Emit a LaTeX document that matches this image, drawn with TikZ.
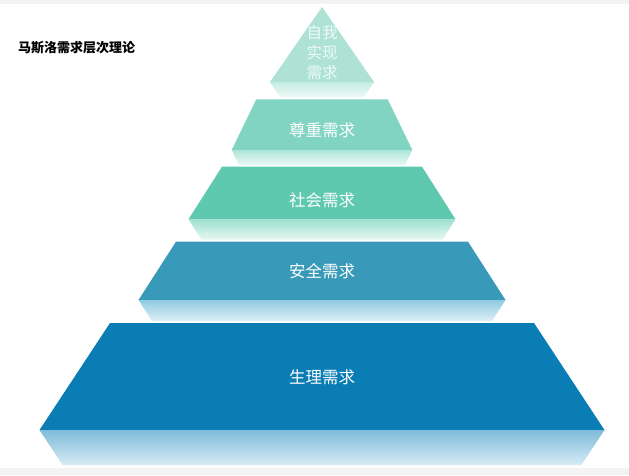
\documentclass[tikz,border=0pt]{standalone}
\usepackage{fontspec}
\newfontfamily\cjk{Noto Sans CJK SC}
\definecolor{bandgray}{HTML}{F3F3F3}
\definecolor{c1}{HTML}{AEE2D5}
\definecolor{c2}{HTML}{80D4C1}
\definecolor{c3}{HTML}{5EC9AE}
\definecolor{c4}{HTML}{3899B8}
\definecolor{c5}{HTML}{0A7DB5}
\definecolor{r1t}{HTML}{C3ECE2}\definecolor{r1b}{HTML}{EFFAF7}
\definecolor{r2t}{HTML}{ADE6D8}\definecolor{r2b}{HTML}{EAF8F4}
\definecolor{r3t}{HTML}{9EE0CF}\definecolor{r3b}{HTML}{E6F7F2}
\definecolor{r4t}{HTML}{90CBE0}\definecolor{r4b}{HTML}{DDF0F6}
\definecolor{r5t}{HTML}{7EBCD9}\definecolor{r5b}{HTML}{D6EBF5}
\definecolor{lighttext}{HTML}{EEFAF6}
\begin{document}
\begin{tikzpicture}[x=1pt,y=-1pt,
  lbl/.style={font=\cjk\fontsize{16.5}{20}\selectfont, text=white, inner sep=0pt, align=center},
  toplbl/.style={font=\cjk\fontsize{15.5}{20}\selectfont, text=lighttext, inner sep=0pt, align=center},
  ttl/.style={font=\cjk\bfseries\fontsize{13}{15}\selectfont, text=black, inner sep=0pt, anchor=west}]
\useasboundingbox (0,0) rectangle (629,475);
\fill[white] (0,0) rectangle (629,475);
\fill[bandgray] (0,0) rectangle (629,4);
\fill[bandgray] (0,468) rectangle (629,475);
% level 1
\fill[c1] (322,7) -- (374,82) -- (270,82) -- cycle;
\shade[top color=r1t,bottom color=r1b] (270,82) -- (374,82) -- (364,97) -- (280,97) -- cycle;
% level 2
\fill[c2] (256.3,99.3) -- (387.7,99.3) -- (412.3,150) -- (231.7,150) -- cycle;
\shade[top color=r2t,bottom color=r2b] (231.7,150) -- (412.3,150) -- (405,165) -- (239,165) -- cycle;
% level 3
\fill[c3] (222,166.7) -- (422,166.7) -- (455.5,219.3) -- (188.5,219.3) -- cycle;
\shade[top color=r3t,bottom color=r3b] (188.5,219.3) -- (455.5,219.3) -- (442.6,239.5) -- (201.4,239.5) -- cycle;
% level 4
\fill[c4] (176,241.7) -- (468,241.7) -- (505.5,300) -- (138.5,300) -- cycle;
\shade[top color=r4t,bottom color=r4b] (138.5,300) -- (505.5,300) -- (492,321) -- (152,321) -- cycle;
% level 5
\fill[c5] (110,323) -- (534,323) -- (604.5,430) -- (39.5,430) -- cycle;
\shade[top color=r5t,bottom color=r5b] (39.5,430) -- (604.5,430) -- (581.4,465) -- (62.6,465) -- cycle;
% labels
\node[toplbl] (l1) at (322,53) {自我\\实现\\需求};
\node[lbl] (l2) at (322,130) {尊重需求};
\node[lbl] (l3) at (322,200) {社会需求};
\node[lbl] (l4) at (322,271.5) {安全需求};
\node[lbl] (l5) at (322,377) {生理需求};
\node[ttl] (title) at (18,48) {马斯洛需求层次理论};
\end{tikzpicture}
\end{document}
